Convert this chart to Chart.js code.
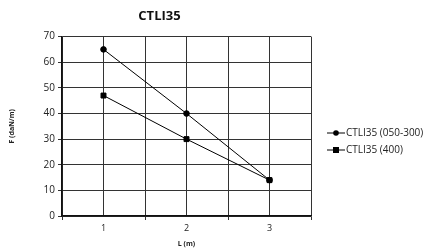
<!DOCTYPE html>
<html>
<head>
<meta charset="utf-8">
<script src="https://cdn.jsdelivr.net/npm/chart.js@4"></script>
<style>
  html, body { margin: 0; padding: 0; background: #fff; }
  #wrap { width: 443px; height: 250px; }
</style>
</head>
<body>
<div id="wrap"><canvas id="chart" width="443" height="250"></canvas></div>
<script>
// Data
const lengths = [1, 2, 3];
const seriesNames = ['CTLI35 (050-300)', 'CTLI35 (400)'];
const forceA = [65, 40, 14];
const forceB = [47, 30, 14];
const yTicks = [0, 10, 20, 30, 40, 50, 60, 70];

const FONT = "'Open Sans', 'DejaVu Sans', sans-serif";

function toPoints(vals) {
    return lengths.map((x, i) => ({ x: x, y: vals[i] }));
}

// Legend drawn by hand: line with a marker on it
const legendPlugin = {
    id: 'sideLegend',
    afterDraw(chart) {
        const c = chart.ctx;
        const items = [
            { name: seriesNames[0], style: 'circle' },
            { name: seriesNames[1], style: 'rect' }
        ];
        c.save();
        c.font = '10px ' + FONT;
        c.textBaseline = 'middle';
        items.forEach((it, i) => {
            const y = 133 + i * 17;
            c.strokeStyle = '#000';
            c.lineWidth = 1;
            c.beginPath();
            c.moveTo(327, y);
            c.lineTo(345, y);
            c.stroke();
            c.fillStyle = '#000';
            if (it.style === 'circle') {
                c.beginPath();
                c.arc(336, y, 2.8, 0, Math.PI * 2);
                c.fill();
            } else {
                c.fillRect(333, y - 3, 6, 6);
            }
            c.fillStyle = '#222';
            c.fillText(it.name, 346, y + 0.5);
        });
        c.restore();
    }
};

const ctx = document.getElementById('chart').getContext('2d');
const chart = new Chart(ctx, {
    type: 'line',
    data: {
        datasets: [{
            label: seriesNames[0],
            data: toPoints(forceA),
            borderColor: '#000',
            backgroundColor: '#000',
            borderWidth: 1,
            pointStyle: 'circle',
            pointRadius: 2.8,
            pointHoverRadius: 2.8
        }, {
            label: seriesNames[1],
            data: toPoints(forceB),
            borderColor: '#000',
            backgroundColor: '#000',
            borderWidth: 1,
            pointStyle: 'rect',
            pointRadius: 3.5,
            pointHoverRadius: 3.5
        }]
    },
    options: {
        responsive: false,
        animation: false,
        layout: { padding: { top: 8, right: 132, bottom: 2, left: 8 } },
        plugins: {
            legend: { display: false },
            tooltip: { enabled: false },
            title: {
                display: true,
                text: 'CTLI35',
                color: '#111',
                font: { family: FONT, size: 13, weight: 'bold' },
                padding: { top: 0, bottom: 13 }
            }
        },
        scales: {
            x: {
                type: 'linear',
                min: 0.5,
                max: 3.5,
                afterBuildTicks(scale) {
                    const t = [];
                    for (let v = 0.5; v <= 3.5; v += 0.5) t.push({ value: v });
                    scale.ticks = t;
                },
                afterFit(scale) { scale.height = 32; },
                ticks: {
                    color: '#222',
                    font: { family: FONT, size: 9 },
                    padding: 3,
                    maxRotation: 0,
                    autoSkip: false,
                    callback: v => (lengths.includes(v) ? String(v) : '')
                },
                grid: {
                    color: '#333',
                    lineWidth: 1,
                    tickLength: 4,
                    tickColor: c => (Number.isInteger(c.tick.value) ? 'rgba(0,0,0,0)' : '#333')
                },
                border: { color: '#111', width: 1.5 },
                title: {
                    display: true,
                    text: 'L (m)',
                    color: '#222',
                    font: { family: FONT, size: 7, weight: 'bold' },
                    padding: { top: 1, bottom: 0 }
                }
            },
            y: {
                min: 0,
                max: 70,
                afterBuildTicks(scale) {
                    scale.ticks = yTicks.map(v => ({ value: v }));
                },
                afterFit(scale) { scale.width = 54; },
                ticks: {
                    color: '#222',
                    font: { family: FONT, size: 10 },
                    padding: 3
                },
                grid: {
                    color: '#333',
                    lineWidth: 1,
                    tickLength: 4,
                    tickColor: '#333'
                },
                border: { color: '#111', width: 1.5 },
                title: {
                    display: true,
                    text: 'F (daN/m)',
                    color: '#222',
                    font: { family: FONT, size: 7, weight: 'bold' },
                    padding: { top: 0, bottom: 4 }
                }
            }
        }
    },
    plugins: [legendPlugin]
});
</script>
</body>
</html>
